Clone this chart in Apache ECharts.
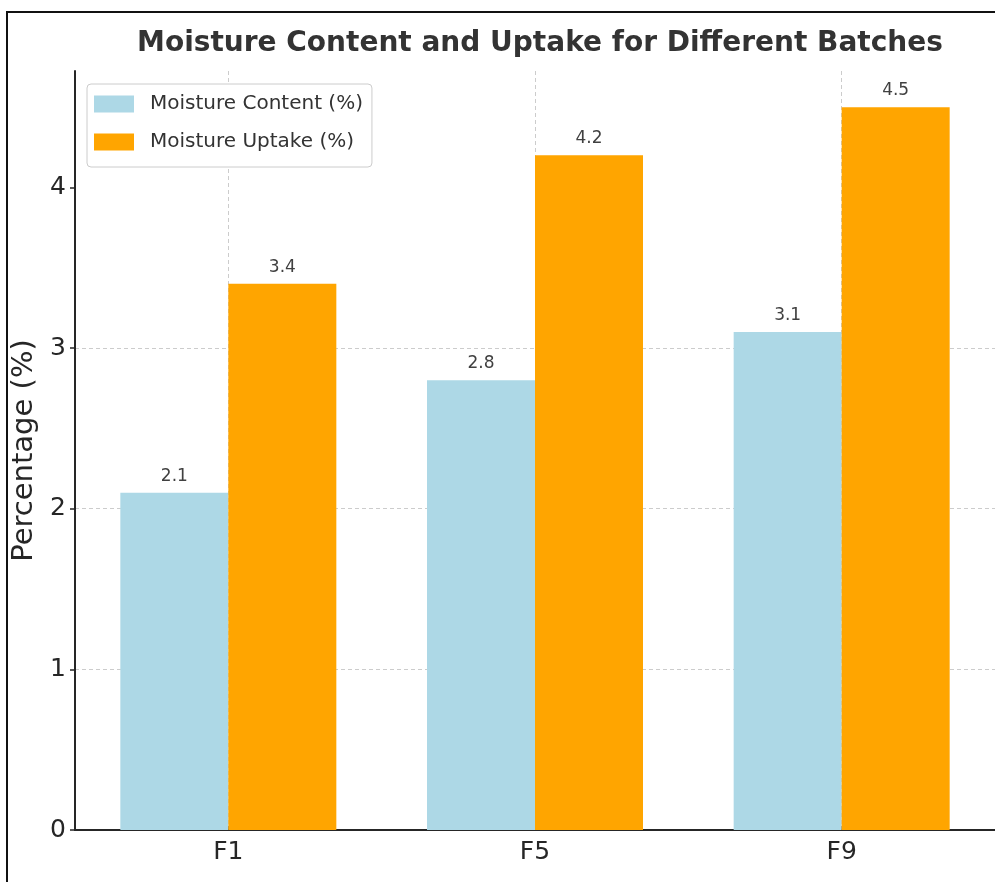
<!DOCTYPE html>
<html>
<head>
<meta charset="utf-8">
<script src="https://cdn.jsdelivr.net/npm/echarts@6/dist/echarts.min.js"></script>
<style>
  html, body { margin: 0; padding: 0; background: #fff; }
  #chart { width: 995px; height: 882px; }
</style>
</head>
<body>
<div id="chart"></div>
<script>
// Batches shown along the x axis
const batches = ['F1', 'F5', 'F9'];
// Measured values per batch, in percent
const moistureContent = [2.1, 2.8, 3.1];
const moistureUptake = [3.4, 4.2, 4.5];
// Labelled y-axis ticks
const yTicks = [0, 1, 2, 3, 4];

const FONT = 'DejaVu Sans';
const gridDash = [4, 3];

const chart = echarts.init(document.getElementById('chart'), null, { renderer: 'canvas' });

chart.setOption({
  backgroundColor: '#ffffff',
  animation: false,
  title: {
    text: 'Moisture Content and Uptake for Different Batches',
    left: 535,
    top: 25,
    textAlign: 'center',
    textStyle: { fontFamily: FONT, fontSize: 28, fontWeight: 'bold', color: '#333333' }
  },
  legend: {
    orient: 'vertical',
    left: 87,
    top: 84,
    padding: [10, 9, 15, 7],
    icon: 'rect',
    itemWidth: 40,
    itemHeight: 17,
    itemGap: 18,
    backgroundColor: '#ffffff',
    borderColor: '#cccccc',
    borderWidth: 1,
    borderRadius: 4,
    textStyle: { fontFamily: FONT, fontSize: 20, color: '#333333', padding: [0, 0, 0, 11] },
    data: ['Moisture Content (%)', 'Moisture Uptake (%)']
  },
  grid: { left: 75, right: 0, top: 71, bottom: 52, containLabel: false },
  xAxis: {
    type: 'category',
    data: batches,
    axisLine: { lineStyle: { color: '#262626', width: 2 } },
    axisTick: { show: true, alignWithLabel: true, inside: true, length: 4, lineStyle: { color: '#262626', width: 1.5 } },
    axisLabel: { fontFamily: FONT, fontSize: 25, color: '#262626', margin: 10 },
    // vertical grid lines run through the centre of each batch
    splitLine: { show: true, alignWithLabel: true, lineStyle: { color: '#cccccc', width: 1, type: gridDash } }
  },
  yAxis: {
    type: 'value',
    min: 0,
    max: 4.725,
    interval: 1,
    name: 'Percentage (%)',
    nameLocation: 'middle',
    nameGap: 30,
    nameTextStyle: { fontFamily: FONT, fontSize: 29, color: '#262626' },
    axisLine: { show: true, lineStyle: { color: '#262626', width: 2 } },
    axisTick: { show: true, length: 5, customValues: yTicks, lineStyle: { color: '#262626', width: 1.5 } },
    axisLabel: { fontFamily: FONT, fontSize: 25, color: '#262626', margin: 9, customValues: yTicks },
    splitLine: { show: true, showMaxLine: false, lineStyle: { color: '#cccccc', width: 1, type: gridDash } }
  },
  graphic: [{
    type: 'rect',
    z: 100,
    silent: true,
    shape: { x: 7, y: 12, width: 1000, height: 900 },
    style: { fill: null, stroke: '#111111', lineWidth: 2 }
  }],
  series: [
    {
      name: 'Moisture Content (%)',
      type: 'bar',
      data: moistureContent,
      barWidth: 108,
      barGap: '0%',
      itemStyle: { color: '#add8e6' },
      label: { show: true, position: 'top', distance: 8, fontFamily: FONT, fontSize: 17, color: '#404040' }
    },
    {
      name: 'Moisture Uptake (%)',
      type: 'bar',
      data: moistureUptake,
      barWidth: 108,
      barGap: '0%',
      itemStyle: { color: '#ffa500' },
      label: { show: true, position: 'top', distance: 8, fontFamily: FONT, fontSize: 17, color: '#404040' }
    }
  ]
});
</script>
</body>
</html>
